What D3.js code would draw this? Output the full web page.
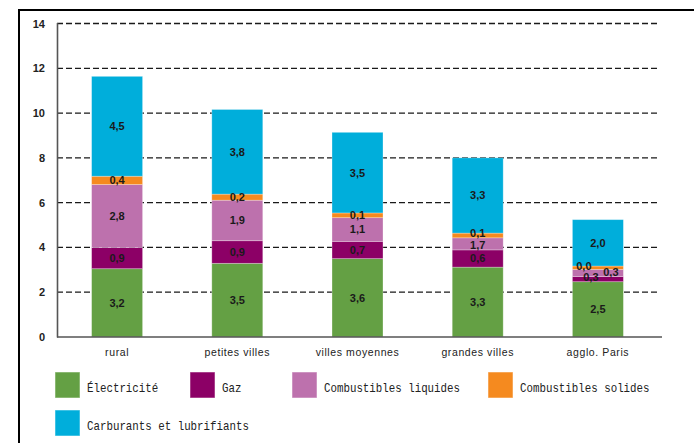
<!DOCTYPE html>
<html>
<head>
<meta charset="utf-8">
<script src="https://cdn.jsdelivr.net/npm/d3@7"></script>
<style>
  html, body { margin: 0; padding: 0; background: #fff; }
  svg { display: block; }
</style>
</head>
<body>
<svg id="chart" width="694" height="443"></svg>
<script>
// ---- Data ----
const categories = ["rural", "petites villes", "villes moyennes", "grandes villes", "agglo. Paris"];
const seriesNames = ["Électricité", "Gaz", "Combustibles liquides", "Combustibles solides", "Carburants et lubrifiants"];
const seriesColors = ["#64a044", "#8c0066", "#bd71ad", "#f58a1f", "#00aedb"];

// bar segment heights as drawn
const electricite = [3.05, 3.29, 3.50, 3.12, 2.47];
const gaz         = [0.95, 1.01, 0.77, 0.77, 0.23];
const liquides    = [2.81, 1.81, 1.06, 0.54, 0.32];
const solides     = [0.37, 0.27, 0.21, 0.21, 0.15];
const carburants  = [4.46, 3.78, 3.60, 3.36, 2.07];

// labels as printed on the chart
const labElectricite = ["3,2", "3,5", "3,6", "3,3", "2,5"];
const labGaz         = ["0,9", "0,9", "0,7", "0,6", "0,3"];
const labLiquides    = ["2,8", "1,9", "1,1", "1,7", "0,3"];
const labSolides     = ["0,4", "0,2", "0,1", "0,1", "0,0"];
const labCarburants  = ["4,5", "3,8", "3,5", "3,3", "2,0"];

const yTicks = [0, 2, 4, 6, 8, 10, 12, 14];

// ---- Build table ----
const seriesValues = [electricite, gaz, liquides, solides, carburants];
const seriesLabels = [labElectricite, labGaz, labLiquides, labSolides, labCarburants];
const keys = seriesNames;
const table = categories.map((c, i) => {
  const row = { cat: c, idx: i };
  keys.forEach((k, s) => row[k] = seriesValues[s][i]);
  return row;
});
const stacked = d3.stack().keys(keys)(table);

// ---- Layout ----
const svg = d3.select("#chart");
const x = d3.scaleBand().domain(categories).range([57, 658]).paddingInner(0.576).paddingOuter(0.288);
const y = d3.scaleLinear().domain([0, 14]).range([337, 23.5]);

// frame (extends beyond right / bottom)
svg.append("rect")
  .attr("x", 19).attr("y", 10).attr("width", 720).attr("height", 480)
  .attr("fill", "none").attr("stroke", "#000").attr("stroke-width", 2);

// gridlines
svg.append("g").selectAll("line")
  .data(yTicks.filter(t => t > 0))
  .join("line")
  .attr("x1", 57).attr("x2", 657)
  .attr("y1", d => y(d)).attr("y2", d => y(d))
  .attr("stroke", "#1a1a1a").attr("stroke-width", 1.3)
  .attr("stroke-dasharray", "6,3");

// y-axis labels
const yAxis = d3.axisLeft(y).tickValues(yTicks).tickSize(0).tickPadding(12).tickFormat(d3.format("d"));
const gy = svg.append("g").attr("transform", "translate(57,0)").call(yAxis);
gy.select(".domain").remove();
gy.selectAll("text")
  .attr("font-family", "'Liberation Sans', Arial, sans-serif")
  .attr("font-size", 11).attr("font-weight", "bold").attr("fill", "#222");

// bars
const layer = svg.append("g").selectAll("g")
  .data(stacked).join("g")
  .attr("fill", (d, i) => seriesColors[i]);
layer.selectAll("rect")
  .data(d => d.map(p => ({ p, key: d.key })))
  .join("rect")
  .attr("x", d => x(d.p.data.cat))
  .attr("width", x.bandwidth())
  .attr("y", d => y(d.p[1]))
  .attr("height", d => y(d.p[0]) - y(d.p[1]))
  .attr("stroke", "rgba(255,255,255,0.35)").attr("stroke-width", 0.8);

// axis lines
svg.append("line").attr("x1", 57.5).attr("x2", 57.5).attr("y1", 23).attr("y2", 337.5)
  .attr("stroke", "#555").attr("stroke-width", 1.6);
const xAxis = d3.axisBottom(x).tickSize(0).tickPadding(12);
const gx = svg.append("g").attr("transform", "translate(0,337)").call(xAxis);
gx.select(".domain").attr("d", "M57,0H662").attr("stroke", "#555").attr("stroke-width", 1.6);
gx.selectAll("text")
  .attr("font-family", "'Liberation Sans', Arial, sans-serif")
  .attr("font-size", 10.5).attr("letter-spacing", 0.6).attr("fill", "#222");

// value labels (with small nudges where labels crowd)
const nudges = {
  "4-1": [-7, -2], "4-2": [13, -1], "4-3": [-14, -1.5],
  "3-3": [0, -2.5], "3-2": [0, 1]
};
stacked.forEach((s, si) => {
  svg.append("g").selectAll("text")
    .data(s)
    .join("text")
    .attr("x", (d, i) => x(d.data.cat) + x.bandwidth() / 2 + ((nudges[i + "-" + si] || [0, 0])[0]))
    .attr("y", (d, i) => (y(d[0]) + y(d[1])) / 2 + ((nudges[i + "-" + si] || [0, 0])[1]))
    .attr("dy", "0.36em")
    .attr("text-anchor", "middle")
    .attr("font-family", "'Liberation Sans', Arial, sans-serif")
    .attr("font-size", 11).attr("font-weight", "bold")
    .attr("fill", "#1a1a1a")
    .text((d, i) => seriesLabels[si][i]);
});

// legend
const legendPos = [[55, 372], [190, 372], [292, 372], [488, 372], [55, 410]];
const lg = svg.append("g").selectAll("g")
  .data(seriesNames).join("g")
  .attr("transform", (d, i) => `translate(${legendPos[i][0]},${legendPos[i][1]})`);
lg.append("rect")
  .attr("width", 25).attr("height", 26)
  .attr("fill", (d, i) => seriesColors[i])
  .attr("stroke", "rgba(255,255,255,0.5)").attr("stroke-width", 1);
lg.append("text")
  .attr("transform", "translate(32,20) scale(0.9,1)")
  .attr("font-family", "'Liberation Mono', 'DejaVu Sans Mono', monospace")
  .attr("font-size", 12).attr("fill", "#222")
  .text(d => d);
</script>
</body>
</html>
